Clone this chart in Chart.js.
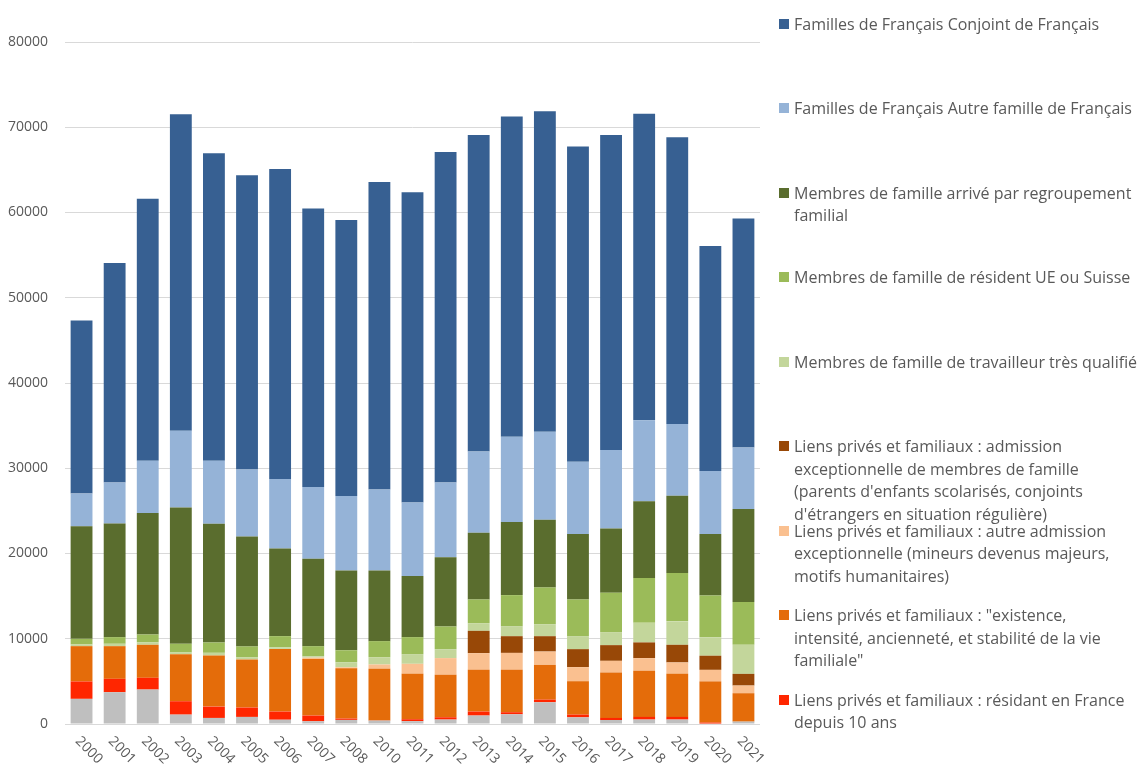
<!DOCTYPE html>
<html>
<head>
<meta charset="utf-8">
<script src="https://cdn.jsdelivr.net/npm/chart.js@4/dist/chart.umd.min.js"></script>
<style>
  html, body { margin: 0; padding: 0; background: #ffffff; }
  #wrap { position: relative; width: 1138px; height: 773px; overflow: hidden; }
  #chart { position: absolute; left: 0; top: 0; }
  #legend { position: absolute; left: 778px; top: 0; width: 360px; height: 773px;
            font-family: "Open Sans", sans-serif; font-size: 16px; color: #595959; }
  .item { position: absolute; left: 0; line-height: 22.5px; white-space: pre-line; }
  .sw { position: absolute; left: 1px; top: 6px; width: 10px; height: 10px; }
  .tx { position: absolute; left: 16px; top: 0; white-space: pre; }
</style>
</head>
<body>
<div id="wrap">
  <canvas id="chart" width="1138" height="773"></canvas>
  <div id="legend"></div>
</div>
<script>
const categories = ['2000','2001','2002','2003','2004','2005','2006','2007','2008','2010','2011','2012','2013','2014','2015','2016','2017','2018','2019','2020','2021'];

const autres              = [2950,3730,4040,1100,710,830,500,320,480,400,330,520,990,1140,2550,780,470,520,520,50,280];
const residant10ans       = [2040,1570,1380,1570,1330,1100,960,670,160,20,230,270,470,240,310,320,240,310,310,120,0];
const vieFamiliale        = [4140,3830,3870,5520,5990,5640,7350,6620,5890,6050,5320,4980,4890,4970,4070,3920,5330,5410,5050,4830,3330];
const autreAdmission      = [0,0,0,0,0,0,0,170,130,510,1180,1960,1960,1990,1570,1650,1370,1490,1340,1350,900];
const admissionMembres    = [0,0,0,0,0,0,0,0,0,0,0,0,2620,1960,1800,2110,1840,1840,2070,1660,1370];
const travailleurQualifie = [200,280,280,200,320,270,190,150,590,860,1140,1050,900,1140,1410,1530,1530,2310,2750,2160,3410];
const residentUE          = [660,780,930,1020,1210,1260,1310,1200,1400,1880,1990,2660,2780,3680,4310,4300,4620,5240,5680,4890,5010];
const regroupement        = [13200,13320,14260,15980,13940,12900,10290,10260,9350,8300,7170,8110,7830,8580,7950,7680,7520,9010,9040,7230,10930];
const autreFamille        = [3840,4820,6110,9010,7370,7860,8150,8420,8750,9480,8610,8770,9530,9990,10300,8460,9210,9510,8420,7380,7210];
const conjoint            = [20300,25740,30730,37130,36080,34500,36350,32670,32360,36080,36400,38790,37130,37570,37620,36980,36970,35930,33650,26390,26870];

const yTicks = [0,10000,20000,30000,40000,50000,60000,70000,80000];

// bottom-to-top stacking order
const series = [
  { label: 'Autres', data: autres, color: '#BFBFBF', legend: false },
  { label: 'Liens privés et familiaux : résidant en France\ndepuis 10 ans', data: residant10ans, color: '#FF2600', legend: true },
  { label: 'Liens privés et familiaux : "existence,\nintensité, ancienneté, et stabilité de la vie\nfamiliale"', data: vieFamiliale, color: '#E46C0A', legend: true },
  { label: 'Liens privés et familiaux : autre admission\nexceptionnelle (mineurs devenus majeurs,\nmotifs humanitaires)', data: autreAdmission, color: '#FAC090', legend: true },
  { label: "Liens privés et familiaux : admission\nexceptionnelle de membres de famille\n(parents d'enfants scolarisés, conjoints\nd'étrangers en situation régulière)", data: admissionMembres, color: '#984807', legend: true },
  { label: 'Membres de famille de travailleur très qualifié', data: travailleurQualifie, color: '#C3D69B', legend: true },
  { label: 'Membres de famille de résident UE ou Suisse', data: residentUE, color: '#9BBB59', legend: true },
  { label: 'Membres de famille arrivé par regroupement\nfamilial', data: regroupement, color: '#5A6D2E', legend: true },
  { label: 'Familles de Français Autre famille de Français', data: autreFamille, color: '#95B3D7', legend: true },
  { label: 'Familles de Français Conjoint de Français', data: conjoint, color: '#376092', legend: true }
];

const FONT = '"Open Sans", sans-serif';

const rotatedXLabels = {
  id: 'rotatedXLabels',
  afterDraw(chart) {
    const ctx = chart.ctx;
    const xs = chart.scales.x;
    const bottom = chart.chartArea.bottom;
    ctx.save();
    ctx.font = '14px ' + FONT;
    ctx.fillStyle = '#595959';
    ctx.textAlign = 'left';
    ctx.textBaseline = 'middle';
    categories.forEach((c, i) => {
      const x = xs.getPixelForValue(i);
      ctx.save();
      ctx.translate(x - 4, bottom + 15);
      ctx.rotate(Math.PI / 4);
      ctx.fillText(c, 0, 0);
      ctx.restore();
    });
    ctx.restore();
  }
};

const chart = new Chart(document.getElementById('chart'), {
  type: 'bar',
  data: {
    labels: categories,
    datasets: series.map(s => ({
      label: s.label,
      data: s.data,
      backgroundColor: s.color,
      borderWidth: 0,
      categoryPercentage: 1.0,
      barPercentage: 0.66
    }))
  },
  options: {
    responsive: false,
    animation: false,
    layout: { padding: { left: 0, right: 378, top: 42, bottom: 41 } },
    plugins: {
      legend: { display: false },
      tooltip: { enabled: false },
      title: { display: false }
    },
    scales: {
      x: {
        stacked: true,
        grid: { display: false },
        border: { display: false },
        ticks: { display: false }
      },
      y: {
        stacked: true,
        min: 0,
        max: 80000,
        afterFit(scale) { scale.width = 65; },
        afterBuildTicks(scale) { scale.ticks = yTicks.map(v => ({ value: v })); },
        grid: { color: '#D9D9D9', lineWidth: 1, drawTicks: false },
        border: { display: false },
        ticks: {
          padding: 17,
          color: '#595959',
          font: { family: FONT, size: 14 },
          callback: v => String(v)
        }
      }
    }
  },
  plugins: [rotatedXLabels]
});

// HTML legend built from the chart's datasets (top of stack first)
const legendEl = document.getElementById('legend');
const legendItems = series.map((s, i) => ({ s, i })).filter(o => o.s.legend).reverse();
legendItems.forEach((o, k) => {
  const item = document.createElement('div');
  item.className = 'item';
  item.style.top = (12.75 + k * 84.5) + 'px';
  const sw = document.createElement('div');
  sw.className = 'sw';
  sw.style.background = chart.data.datasets[o.i].backgroundColor;
  const tx = document.createElement('div');
  tx.className = 'tx';
  tx.textContent = chart.data.datasets[o.i].label;
  item.appendChild(sw);
  item.appendChild(tx);
  legendEl.appendChild(item);
});
</script>
</body>
</html>
